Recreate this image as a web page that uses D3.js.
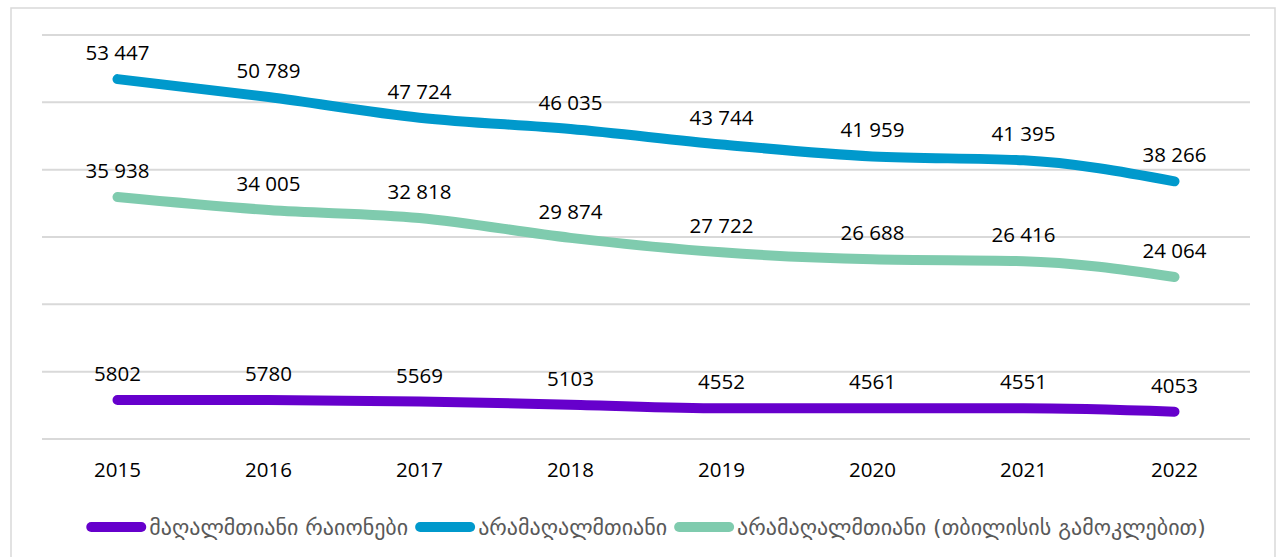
<!DOCTYPE html>
<html>
<head>
<meta charset="utf-8">
<script src="https://cdn.jsdelivr.net/npm/d3@7"></script>
<style>
  body { margin: 0; background: #fff; }
  svg { display: block; }
</style>
</head>
<body>
<svg id="chart"></svg>
<script>
// data
const years = ["2015", "2016", "2017", "2018", "2019", "2020", "2021", "2022"];
const mountain = [5802, 5780, 5569, 5103, 4552, 4561, 4551, 4053];
const nonMountain = [53447, 50789, 47724, 46035, 43744, 41959, 41395, 38266];
const nonMountainNoTbilisi = [35938, 34005, 32818, 29874, 27722, 26688, 26416, 24064];
const yTicks = [0, 10000, 20000, 30000, 40000, 50000, 60000];

const seriesNames = ["მაღალმთიანი რაიონები", "არამაღალმთიანი", "არამაღალმთიანი (თბილისის გამოკლებით)"];
const seriesColors = ["#6600cc", "#0099cc", "#7fcbae"];
const seriesValues = [mountain, nonMountain, nonMountainNoTbilisi];

const width = 1280, height = 557;
const svg = d3.select("#chart").attr("width", width).attr("height", height);

// outer chart frame
svg.append("rect")
  .attr("x", 11).attr("y", 8)
  .attr("width", 1264).attr("height", 600)
  .attr("fill", "none")
  .attr("stroke", "#d9d9d9")
  .attr("stroke-width", 1.5);

const x = d3.scaleBand().domain(years).range([42, 1250]);
const y = d3.scaleLinear().domain([0, 60000]).range([439, 35]);
const xc = d => x(d) + x.bandwidth() / 2;

// gridlines
svg.append("g")
  .selectAll("line")
  .data(yTicks)
  .enter()
  .append("line")
  .attr("x1", 42).attr("x2", 1250)
  .attr("y1", d => y(d)).attr("y2", d => y(d))
  .attr("stroke", "#d9d9d9")
  .attr("stroke-width", 2);

// year labels
svg.append("g")
  .selectAll("text")
  .data(years)
  .enter()
  .append("text")
  .attr("x", d => xc(d))
  .attr("y", 477)
  .attr("text-anchor", "middle")
  .attr("font-family", "'Open Sans', sans-serif")
  .attr("font-size", 20.5)
  .attr("fill", "#000")
  .text(d => d);

const line = d3.line()
  .x((d, i) => xc(years[i]))
  .y(d => y(d))
  .curve(d3.curveMonotoneX);

const fmt = v => v >= 10000 ? d3.format(",")(v).replace(",", " ") : String(v);

seriesValues.forEach((vals, k) => {
  svg.append("path")
    .datum(vals)
    .attr("d", line)
    .attr("fill", "none")
    .attr("stroke", seriesColors[k])
    .attr("stroke-width", 10)
    .attr("stroke-linecap", "round")
    .attr("stroke-linejoin", "round");
});

// data labels on top of the lines
seriesValues.forEach(vals => {
  svg.append("g")
    .selectAll("text")
    .data(vals)
    .enter()
    .append("text")
    .attr("x", (d, i) => xc(years[i]))
    .attr("y", d => y(d) - 19)
    .attr("text-anchor", "middle")
    .attr("font-family", "'Open Sans', sans-serif")
    .attr("font-size", 20.5)
    .attr("fill", "#000")
    .text(d => fmt(d));
});

// legend, centred under the plot
const legend = svg.append("g");
const items = legend.selectAll("g")
  .data(seriesNames)
  .enter()
  .append("g");

items.append("line")
  .attr("x1", 5).attr("x2", 55)
  .attr("y1", 0).attr("y2", 0)
  .attr("stroke", (d, i) => seriesColors[i])
  .attr("stroke-width", 10)
  .attr("stroke-linecap", "round");

items.append("text")
  .attr("x", 63)
  .attr("y", 8)
  .attr("font-family", "'DejaVu Sans', sans-serif")
  .attr("font-size", 22)
  .attr("fill", "#595959")
  .text(d => d);

let pos = 0;
const offsets = [];
items.each(function () {
  offsets.push(pos);
  pos += 63 + this.querySelector("text").getComputedTextLength() + 7;
});
const total = pos - 7;
const startX = 646 - total / 2;
items.attr("transform", (d, i) => `translate(${startX + offsets[i]}, 527)`);
</script>
</body>
</html>
